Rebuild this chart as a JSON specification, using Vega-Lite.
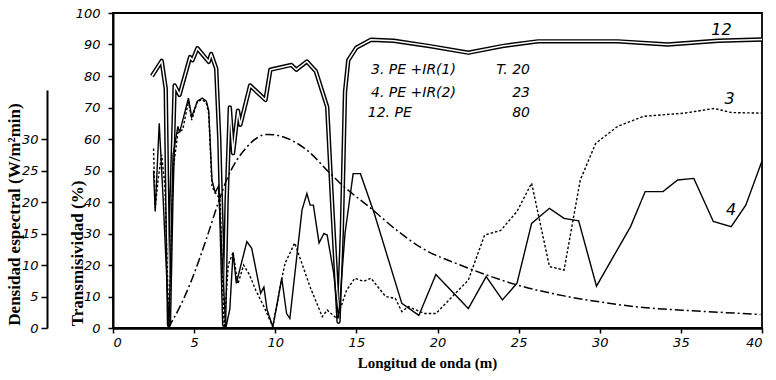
{
  "$schema": "https://vega.github.io/schema/vega-lite/v6.json",
  "width": 649,
  "height": 315,
  "autosize": "none",
  "padding": {"left": 113, "top": 13, "right": 14, "bottom": 52},
  "background": "white",
  "config": {
    "view": {"stroke": "black", "strokeWidth": 1.8},
    "axis": {"grid": false, "domainColor": "black", "tickColor": "black", "labelColor": "black", "titleColor": "black",
             "labelFont": "DejaVu Sans", "labelFontStyle": "italic", "labelFontSize": 13,
             "titleFont": "Liberation Serif", "titleFontWeight": "bold", "titleFontSize": 16}
  },
  "datasets": {
    "curves": [
      {"wl": 2.4, "t": 80, "s": "12"}, {"wl": 3.0, "t": 84.8, "s": "12"}, {"wl": 3.25, "t": 76, "s": "12"}, {"wl": 3.45, "t": 1, "s": "12"},
      {"wl": 3.6, "t": 40, "s": "12"}, {"wl": 3.8, "t": 77, "s": "12"}, {"wl": 4.1, "t": 74, "s": "12"}, {"wl": 4.75, "t": 86, "s": "12"},
      {"wl": 4.9, "t": 85, "s": "12"}, {"wl": 5.2, "t": 88.8, "s": "12"}, {"wl": 5.9, "t": 84.5, "s": "12"}, {"wl": 6.05, "t": 87, "s": "12"},
      {"wl": 6.36, "t": 82.4, "s": "12"}, {"wl": 6.55, "t": 60, "s": "12"}, {"wl": 6.85, "t": 1, "s": "12"}, {"wl": 7.0, "t": 40, "s": "12"},
      {"wl": 7.2, "t": 70, "s": "12"}, {"wl": 7.4, "t": 55.5, "s": "12"}, {"wl": 7.7, "t": 69, "s": "12"}, {"wl": 7.85, "t": 64.5, "s": "12"},
      {"wl": 8.45, "t": 77, "s": "12"}, {"wl": 9.4, "t": 72.4, "s": "12"}, {"wl": 9.7, "t": 82, "s": "12"}, {"wl": 11.0, "t": 83.5, "s": "12"},
      {"wl": 11.3, "t": 82, "s": "12"}, {"wl": 11.95, "t": 84.6, "s": "12"}, {"wl": 12.5, "t": 81.5, "s": "12"}, {"wl": 13.2, "t": 70.2, "s": "12"},
      {"wl": 13.5, "t": 40, "s": "12"}, {"wl": 13.9, "t": 2, "s": "12"}, {"wl": 14.1, "t": 30, "s": "12"}, {"wl": 14.3, "t": 75, "s": "12"},
      {"wl": 14.5, "t": 85, "s": "12"}, {"wl": 15.0, "t": 89, "s": "12"}, {"wl": 15.9, "t": 91.5, "s": "12"}, {"wl": 17.3, "t": 91.2, "s": "12"},
      {"wl": 19.5, "t": 89.5, "s": "12"}, {"wl": 21.9, "t": 87.4, "s": "12"}, {"wl": 24.0, "t": 89.5, "s": "12"}, {"wl": 26.2, "t": 91, "s": "12"},
      {"wl": 31.1, "t": 91, "s": "12"}, {"wl": 34.2, "t": 90, "s": "12"}, {"wl": 37.3, "t": 91.2, "s": "12"}, {"wl": 40, "t": 91.6, "s": "12"},

      {"wl": 2.5, "t": 57, "s": "3"}, {"wl": 2.6, "t": 38, "s": "3"}, {"wl": 2.8, "t": 48, "s": "3"}, {"wl": 3.0, "t": 55, "s": "3"},
      {"wl": 3.2, "t": 45, "s": "3"}, {"wl": 3.45, "t": 0, "s": "3"}, {"wl": 3.7, "t": 50, "s": "3"}, {"wl": 4.0, "t": 62, "s": "3"},
      {"wl": 4.3, "t": 63, "s": "3"}, {"wl": 4.65, "t": 72, "s": "3"}, {"wl": 4.85, "t": 66, "s": "3"}, {"wl": 5.2, "t": 72, "s": "3"},
      {"wl": 5.5, "t": 72.5, "s": "3"}, {"wl": 5.75, "t": 71.5, "s": "3"}, {"wl": 5.9, "t": 68, "s": "3"}, {"wl": 6.1, "t": 45, "s": "3"},
      {"wl": 6.3, "t": 43, "s": "3"}, {"wl": 6.6, "t": 41, "s": "3"}, {"wl": 6.85, "t": 0, "s": "3"}, {"wl": 7.1, "t": 20, "s": "3"},
      {"wl": 7.4, "t": 24, "s": "3"}, {"wl": 7.7, "t": 14, "s": "3"}, {"wl": 8.05, "t": 20, "s": "3"}, {"wl": 8.4, "t": 17, "s": "3"},
      {"wl": 8.8, "t": 12, "s": "3"}, {"wl": 9.3, "t": 6.8, "s": "3"}, {"wl": 9.85, "t": 0.4, "s": "3"}, {"wl": 10.3, "t": 13, "s": "3"},
      {"wl": 10.6, "t": 20.5, "s": "3"}, {"wl": 11.2, "t": 27, "s": "3"}, {"wl": 11.5, "t": 22.6, "s": "3"}, {"wl": 12.15, "t": 13, "s": "3"},
      {"wl": 12.9, "t": 3.6, "s": "3"}, {"wl": 13.2, "t": 5.7, "s": "3"}, {"wl": 13.8, "t": 3, "s": "3"}, {"wl": 14.4, "t": 12, "s": "3"},
      {"wl": 14.9, "t": 15.8, "s": "3"}, {"wl": 15.45, "t": 14.8, "s": "3"}, {"wl": 15.9, "t": 15.8, "s": "3"}, {"wl": 16.8, "t": 10, "s": "3"},
      {"wl": 17.4, "t": 9.4, "s": "3"}, {"wl": 17.8, "t": 5.2, "s": "3"}, {"wl": 18.2, "t": 6.8, "s": "3"}, {"wl": 19.2, "t": 4.6, "s": "3"},
      {"wl": 19.9, "t": 4.6, "s": "3"}, {"wl": 21.9, "t": 15.2, "s": "3"}, {"wl": 22.9, "t": 29.5, "s": "3"}, {"wl": 23.9, "t": 31, "s": "3"},
      {"wl": 24.9, "t": 37, "s": "3"}, {"wl": 25.8, "t": 46, "s": "3"}, {"wl": 26.9, "t": 19.5, "s": "3"}, {"wl": 27.8, "t": 18.4, "s": "3"},
      {"wl": 28.8, "t": 47, "s": "3"}, {"wl": 29.75, "t": 58.6, "s": "3"}, {"wl": 31.1, "t": 64, "s": "3"}, {"wl": 32.7, "t": 67.2, "s": "3"},
      {"wl": 35.2, "t": 68.2, "s": "3"}, {"wl": 37.05, "t": 69.7, "s": "3"}, {"wl": 38.1, "t": 68.4, "s": "3"}, {"wl": 40, "t": 68.2, "s": "3"},

      {"wl": 2.5, "t": 50, "s": "4"}, {"wl": 2.6, "t": 37, "s": "4"}, {"wl": 2.85, "t": 65, "s": "4"}, {"wl": 3.0, "t": 50, "s": "4"},
      {"wl": 3.1, "t": 40, "s": "4"}, {"wl": 3.45, "t": 0, "s": "4"}, {"wl": 3.7, "t": 55, "s": "4"}, {"wl": 4.0, "t": 64, "s": "4"},
      {"wl": 4.1, "t": 62, "s": "4"}, {"wl": 4.65, "t": 73, "s": "4"}, {"wl": 4.85, "t": 67, "s": "4"}, {"wl": 5.2, "t": 72, "s": "4"},
      {"wl": 5.5, "t": 73, "s": "4"}, {"wl": 5.75, "t": 72, "s": "4"}, {"wl": 5.9, "t": 69, "s": "4"}, {"wl": 6.1, "t": 47, "s": "4"},
      {"wl": 6.3, "t": 43, "s": "4"}, {"wl": 6.5, "t": 45, "s": "4"}, {"wl": 6.95, "t": 0, "s": "4"}, {"wl": 7.2, "t": 6, "s": "4"},
      {"wl": 7.4, "t": 24, "s": "4"}, {"wl": 7.6, "t": 14.2, "s": "4"}, {"wl": 8.25, "t": 27.4, "s": "4"}, {"wl": 8.55, "t": 25.3, "s": "4"},
      {"wl": 9.1, "t": 11, "s": "4"}, {"wl": 9.3, "t": 13, "s": "4"}, {"wl": 9.5, "t": 5.7, "s": "4"}, {"wl": 9.85, "t": 0.4, "s": "4"},
      {"wl": 10.2, "t": 10, "s": "4"}, {"wl": 10.4, "t": 15.8, "s": "4"}, {"wl": 10.7, "t": 4.6, "s": "4"}, {"wl": 10.9, "t": 3, "s": "4"},
      {"wl": 11.65, "t": 37.5, "s": "4"}, {"wl": 11.95, "t": 42.7, "s": "4"}, {"wl": 12.15, "t": 39, "s": "4"}, {"wl": 12.35, "t": 39, "s": "4"},
      {"wl": 12.7, "t": 27, "s": "4"}, {"wl": 13.0, "t": 30, "s": "4"}, {"wl": 13.2, "t": 29.5, "s": "4"}, {"wl": 13.6, "t": 17.4, "s": "4"},
      {"wl": 13.9, "t": 3, "s": "4"}, {"wl": 14.3, "t": 30, "s": "4"}, {"wl": 14.8, "t": 49, "s": "4"}, {"wl": 15.25, "t": 49, "s": "4"},
      {"wl": 16.1, "t": 36.4, "s": "4"}, {"wl": 17.8, "t": 7.8, "s": "4"}, {"wl": 18.85, "t": 4, "s": "4"}, {"wl": 19.9, "t": 17, "s": "4"},
      {"wl": 21.9, "t": 6.2, "s": "4"}, {"wl": 23.0, "t": 16.3, "s": "4"}, {"wl": 24.0, "t": 8.9, "s": "4"}, {"wl": 24.9, "t": 14.2, "s": "4"},
      {"wl": 25.8, "t": 33.2, "s": "4"}, {"wl": 26.9, "t": 38, "s": "4"}, {"wl": 27.8, "t": 34.8, "s": "4"}, {"wl": 28.7, "t": 34, "s": "4"},
      {"wl": 29.8, "t": 13.3, "s": "4"}, {"wl": 31.9, "t": 32.2, "s": "4"}, {"wl": 32.8, "t": 43.3, "s": "4"}, {"wl": 33.9, "t": 43.3, "s": "4"},
      {"wl": 34.8, "t": 47, "s": "4"}, {"wl": 35.8, "t": 47.5, "s": "4"}, {"wl": 37.0, "t": 33.8, "s": "4"}, {"wl": 38.1, "t": 32.2, "s": "4"},
      {"wl": 39.0, "t": 39, "s": "4"}, {"wl": 40, "t": 53, "s": "4"}
    ],
    "density": [
      {"wl": 3.4, "d": 0}, {"wl": 4.0, "d": 2.75}, {"wl": 4.75, "d": 7}, {"wl": 5.8, "d": 14.5}, {"wl": 6.5, "d": 20},
      {"wl": 7.0, "d": 23.5}, {"wl": 8.25, "d": 28.75}, {"wl": 9.5, "d": 30.75}, {"wl": 10.3, "d": 30.5}, {"wl": 11.95, "d": 28.25},
      {"wl": 13.4, "d": 24.5}, {"wl": 14.0, "d": 23}, {"wl": 15.9, "d": 19}, {"wl": 17.5, "d": 15.5}, {"wl": 19.0, "d": 12.75},
      {"wl": 21.4, "d": 10}, {"wl": 22.2, "d": 9.2}, {"wl": 24.9, "d": 6.85}, {"wl": 27.8, "d": 5.1}, {"wl": 29.85, "d": 4.2},
      {"wl": 32.7, "d": 3.25}, {"wl": 36.0, "d": 2.7}, {"wl": 39.9, "d": 2.15}
    ],
    "notesLeft": [
      {"wl": 15.9, "t": 81.9, "label": "3. PE +IR(1)"},
      {"wl": 15.9, "t": 74.5, "label": "4. PE +IR(2)"},
      {"wl": 15.7, "t": 68.3, "label": "12. PE"}
    ],
    "notesRight": [
      {"wl": 25.7, "t": 81.9, "label": "T. 20"},
      {"wl": 25.7, "t": 74.5, "label": "23"},
      {"wl": 25.7, "t": 68.3, "label": "80"}
    ],
    "tags": [
      {"wl": 37.5, "t": 94.5, "label": "12"},
      {"wl": 38.0, "t": 72.8, "label": "3"},
      {"wl": 38.1, "t": 37.5, "label": "4"}
    ]
  },
  "layer": [
    {
      "encoding": {
        "x": {"field": "wl", "type": "quantitative",
              "scale": {"domain": [0, 40], "nice": false},
              "axis": {"values": [0, 5, 10, 15, 20, 25, 30, 35, 40], "title": "Longitud de onda (m)",
                       "domainWidth": 2.5, "tickSize": 5, "tickWidth": 1.5, "labelPadding": 3,
                       "titleX": 314, "titleY": 34, "titleBaseline": "middle", "titleFontSize": 15}},
        "y": {"field": "t", "type": "quantitative",
              "scale": {"domain": [0, 100], "nice": false},
              "axis": {"values": [0, 10, 20, 30, 40, 50, 60, 70, 80, 90, 100], "title": "Transmisividad (%)",
                       "domainWidth": 2, "tickSize": 5, "tickWidth": 1.5, "labelPadding": 8,
                       "titleX": -36, "titleY": 240, "titleAngle": -90, "titleAlign": "center", "titleBaseline": "middle", "titleFontSize": 17}}
      },
      "layer": [
        {"data": {"name": "curves"}, "transform": [{"filter": "datum.s === '12'"}],
         "mark": {"type": "line", "color": "black", "strokeWidth": 4.4, "strokeJoin": "round"}},
        {"data": {"name": "curves"}, "transform": [{"filter": "datum.s === '12'"}],
         "mark": {"type": "line", "color": "white", "strokeWidth": 1.5, "strokeJoin": "round"}},
        {"data": {"name": "curves"}, "transform": [{"filter": "datum.s === '3'"}],
         "mark": {"type": "line", "color": "black", "strokeWidth": 1.4, "strokeDash": [2.5, 2]}},
        {"data": {"name": "curves"}, "transform": [{"filter": "datum.s === '4'"}],
         "mark": {"type": "line", "color": "black", "strokeWidth": 1.4}},
        {"data": {"name": "notesLeft"},
         "mark": {"type": "text", "font": "DejaVu Sans", "fontStyle": "italic", "fontSize": 14, "color": "black", "baseline": "middle", "align": "left"},
         "encoding": {"text": {"field": "label"}}},
        {"data": {"name": "notesRight"},
         "mark": {"type": "text", "font": "DejaVu Sans", "fontStyle": "italic", "fontSize": 14, "color": "black", "baseline": "middle", "align": "right"},
         "encoding": {"text": {"field": "label"}}},
        {"data": {"name": "tags"},
         "mark": {"type": "text", "font": "DejaVu Sans", "fontStyle": "italic", "fontSize": 16, "color": "black", "baseline": "middle", "align": "center"},
         "encoding": {"text": {"field": "label"}}}
      ]
    },
    {
      "data": {"name": "density"},
      "mark": {"type": "line", "color": "black", "strokeWidth": 1.5, "strokeDash": [9, 3, 2, 3], "interpolate": "monotone"},
      "encoding": {
        "x": {"field": "wl", "type": "quantitative", "scale": {"domain": [0, 40], "nice": false}},
        "y": {"field": "d", "type": "quantitative",
              "scale": {"domain": [0, 37.8], "range": [315, 77], "nice": false},
              "axis": {"orient": "left", "offset": 66, "values": [0, 5, 10, 15, 20, 25, 30],
                       "title": "Densidad espectral   (W/m²min)",
                       "domainWidth": 2, "tickSize": 6, "tickWidth": 1.5, "labelPadding": 3,
                       "titleX": -33, "titleY": 201, "titleAngle": -90, "titleAlign": "center", "titleBaseline": "middle", "titleFontSize": 17}}
      }
    }
  ],
  "resolve": {"scale": {"y": "independent"}, "axis": {"y": "independent"}}
}
